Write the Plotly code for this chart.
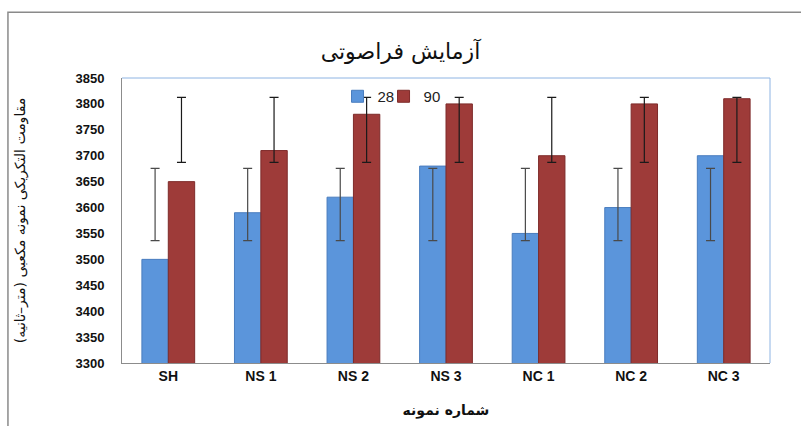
import numpy as np
import plotly.graph_objects as go

categories = ["SH", "NS 1", "NS 2", "NS 3", "NC 1", "NC 2", "NC 3"]
series_names = ["28", "90"]
values_28 = [3500, 3590, 3620, 3680, 3550, 3600, 3700]
values_90 = [3650, 3710, 3780, 3800, 3700, 3800, 3810]
y_ticks = [3300, 3350, 3400, 3450, 3500, 3550, 3600, 3650, 3700, 3750, 3800, 3850]

title_text = "آزمایش فراصوتی"
y_title = "مقاومت التکریکی نمونه مکعبی (متر–ثانیه)"
x_title = "شماره نمونه"


def sd_errors(vals):
    # Excel "standard deviation" error bars: centred on the series mean
    v = np.array(vals, dtype=float)
    m = v.mean()
    s = v.std(ddof=1)
    up = (m + s) - v
    down = v - (m - s)
    return up.tolist(), down.tolist()


up28, dn28 = sd_errors(values_28)
up90, dn90 = sd_errors(values_90)

fig = go.Figure()
fig.add_trace(go.Bar(
    x=categories, y=values_28, name=series_names[0], legend="legend",
    marker=dict(color="#5B95DB", line=dict(color="#4A7DBE", width=1)),
    error_y=dict(type="data", symmetric=False, array=up28, arrayminus=dn28,
                 color="#4a4a4a", thickness=1.2, width=4.5),
))
fig.add_trace(go.Bar(
    x=categories, y=values_90, name=series_names[1], legend="legend2",
    marker=dict(color="#9E3B39", line=dict(color="#7E2B2A", width=1)),
    error_y=dict(type="data", symmetric=False, array=up90, arrayminus=dn90,
                 color="#1a1a1a", thickness=1.2, width=4.5),
))

font_ar = "DejaVu Sans, Noto Sans, sans-serif"
font_lat = "Liberation Sans, Arial, sans-serif"

legend_style = dict(orientation="h", y=0.935, xanchor="left", yanchor="middle",
                    bgcolor="rgba(0,0,0,0)", font=dict(family=font_lat, size=15, color="#222"),
                    itemwidth=30)

fig.update_layout(
    width=801, height=426,
    margin=dict(l=122, r=31, t=78, b=63),
    paper_bgcolor="white", plot_bgcolor="white",
    barmode="group", bargap=0.43, bargroupgap=0.0,
    title=dict(text=title_text, x=0.5, xanchor="center", y=0.88, yanchor="middle",
               font=dict(family=font_ar, size=22, color="#111")),
    showlegend=True,
    legend=dict(x=0.3326, **legend_style),
    legend2=dict(x=0.4036, **legend_style),
    xaxis=dict(
        automargin=False,
        showline=True, linecolor="#8c8c8c", linewidth=1, ticks="",
        tickfont=dict(family=font_lat, size=14, color="#111", weight="bold"),
        title=dict(text=x_title, font=dict(family=font_ar, size=14, color="#111", weight="bold"), standoff=22),
    ),
    yaxis=dict(
        automargin=False,
        range=[3300, 3850], tickvals=y_ticks, showgrid=False, zeroline=False,
        showline=True, linecolor="#8c8c8c", linewidth=1, ticks="",
        tickfont=dict(family=font_lat, size=13, color="#111", weight="bold"),
        ticklabelstandoff=14,
        title=dict(text=y_title, font=dict(family=font_ar, size=14, color="#111"), standoff=46),
    ),
)

# top/right plot border (light blue)
fig.add_shape(type="line", xref="paper", yref="paper", x0=0, x1=1, y0=1, y1=1,
              line=dict(color="#8EB4E3", width=1))
fig.add_shape(type="line", xref="paper", yref="paper", x0=1, x1=1, y0=0, y1=1,
              line=dict(color="#8EB4E3", width=1))
# outer chart frame (left and top edges)
fig.add_shape(type="path", xref="paper", yref="paper",
              path="M -0.176,-0.3 L -0.176,1.231 L 1.06,1.231",
              line=dict(color="#8a8a8a", width=1.5))

fig.write_html("out.html", config={"displayModeBar": False},
               post_script="document.body.style.margin='0';")
